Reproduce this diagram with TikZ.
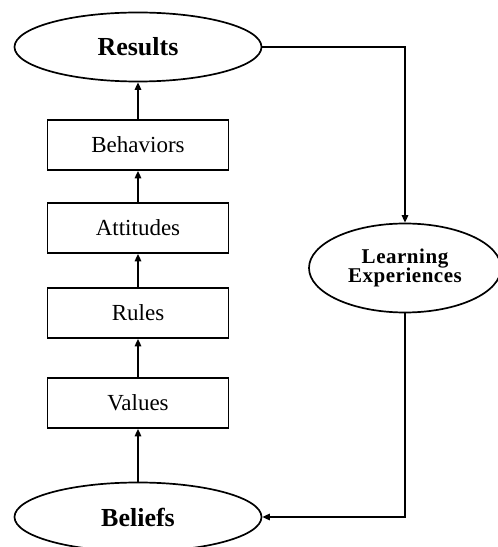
\documentclass[tikz,border=0pt]{standalone}
\usepackage{fontspec}
\setmainfont{Liberation Serif}
\usetikzlibrary{shapes.geometric}
\usetikzlibrary{arrows.meta}

\begin{document}
\begin{tikzpicture}[x=1pt,y=1pt,
  box/.style={draw,line width=1.7pt,minimum width=181pt,minimum height=50pt,inner sep=0pt,font=\fontsize{23}{26}\selectfont},
  oval/.style={draw,ellipse,line width=1.7pt,inner sep=0pt,minimum width=247pt,minimum height=69pt,font=\bfseries\fontsize{26}{28}\selectfont},
  arr/.style={line width=1.5pt,-{Triangle[length=7.5pt,width=6.5pt]}}]
\useasboundingbox (0,0) rectangle (498,547);
\node(Bel) [oval] at (138,30) {Beliefs};
\node(Val) [box,node distance=114pt,above of=Bel] {Values};
\node(Rul) [box,node distance=90pt,above of=Val] {Rules};
\node(Att) [box,node distance=85pt,above of=Rul] {Attitudes};
\node(Beh) [box,node distance=83pt,above of=Att] {Behaviors};
\node(Res) [oval,node distance=98pt,above of=Beh] {Results};
\node(Lrn) [oval,minimum width=192pt,minimum height=89pt,align=center,font=\bfseries\fontsize{21}{19.5}\selectfont\addfontfeature{LetterSpace=2.5}] at (405,279) {Learning\\Experiences};
\draw[arr] (Bel) -- (Val);
\draw[arr] (Val) -- (Rul);
\draw[arr] (Rul) -- (Att);
\draw[arr] (Att) -- (Beh);
\draw[arr] (Beh) -- (Res);
\draw[arr] (Res.east) -| (Lrn.north);
\draw[arr] (Lrn.south) |- (Bel.east);
\end{tikzpicture}
\end{document}
